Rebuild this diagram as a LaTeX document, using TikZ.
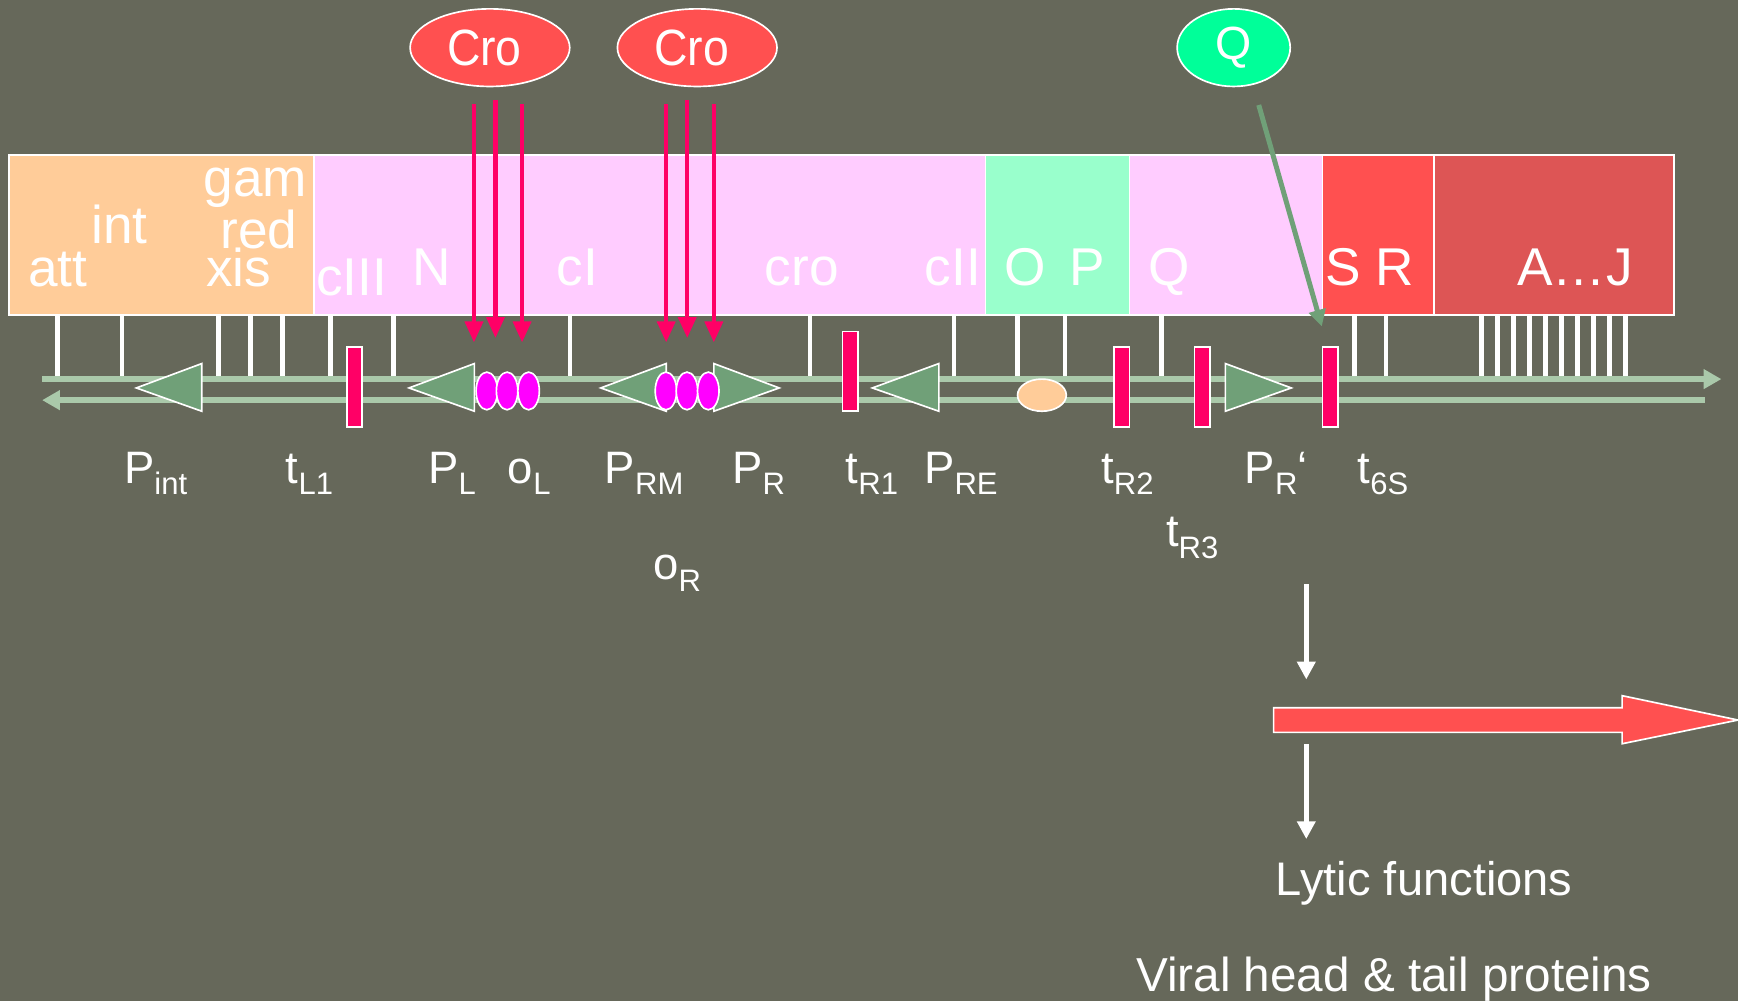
\documentclass[tikz,border=0pt]{standalone}
\usepackage{fontspec}
\setmainfont{Liberation Sans}
\newfontfamily\crofont[FakeStretch=0.91]{Liberation Sans}
\usetikzlibrary{arrows.meta,shapes.geometric}

\definecolor{bg}{RGB}{102,104,90}
\definecolor{orangebox}{RGB}{255,204,153}
\definecolor{pinkbox}{RGB}{255,204,255}
\definecolor{mintbox}{RGB}{153,255,204}
\definecolor{redbox}{RGB}{255,80,80}
\definecolor{darkredbox}{RGB}{221,85,85}
\definecolor{qgreen}{RGB}{0,255,153}
\definecolor{arrowpink}{RGB}{255,0,102}
\definecolor{strandcol}{RGB}{170,201,170}
\definecolor{promcol}{RGB}{112,160,120}
\definecolor{opcol}{RGB}{255,0,255}
\definecolor{oricol}{RGB}{255,204,153}

\newcommand{\lsub}[1]{\raisebox{-10.5pt}{\fontsize{28pt}{28pt}\selectfont #1}}

\begin{document}
\begin{tikzpicture}[x=1pt,y=-1pt,
  genebox/.style={draw=white, line width=1.5pt},
  genelabel/.style={anchor=base west, inner sep=0pt, outer sep=0pt, text=white, font=\fontsize{48pt}{48pt}\selectfont},
  sitelabel/.style={anchor=base west, inner sep=0pt, outer sep=0pt, text=white, font=\fontsize{41pt}{41pt}\selectfont},
  biglabel/.style={anchor=base west, inner sep=0pt, outer sep=0pt, text=white, font=\fontsize{42.5pt}{42.5pt}\selectfont},
  protein/.style={ellipse, draw=white, line width=1.5pt, inner sep=0pt, text=white, font=\fontsize{42pt}{42pt}\selectfont},
  tick/.style={draw=white, line width=4pt},
  strand/.style={draw=strandcol, line width=5pt},
  croarrow/.style={draw=arrowpink, line width=4pt, -{Triangle[length=19pt,width=16pt]}},
  qarrow/.style={draw=promcol, line width=4.5pt, -{Triangle[length=15pt,width=15pt]}},
  whitearrow/.style={draw=white, line width=4pt, -{Triangle[length=16pt,width=16pt]}},
  promoter/.style={fill=promcol, draw=white, line width=1.5pt},
  operator/.style={fill=opcol, draw=white, line width=1.5pt},
  terminator/.style={fill=arrowpink, draw=white, line width=1.5pt}
]
% background / bounding box
\useasboundingbox (0,0) rectangle (1568,903);
\fill[bg] (0,0) rectangle (1568,903);

% gene map boxes
\draw[genebox, fill=orangebox] (8,140) rectangle (283,284);
\draw[genebox, fill=pinkbox] (283,140) rectangle (889,284);
\draw[genebox, fill=mintbox] (889,140) rectangle (1019,284);
\draw[genebox, fill=pinkbox] (1019,140) rectangle (1193,284);
\draw[genebox, fill=redbox] (1193,140) rectangle (1294,284);
\draw[genebox, fill=darkredbox] (1294,140) rectangle (1510,284);

% gene labels
\node[genelabel] (latt) at (25.6,258.6) {att};
\node[genelabel] (lint) at (82.6,220) {int};
\node[genelabel] (lgam) at (183.7,177.5) {gam};
\node[genelabel] (lred) at (199,224.5) {red};
\node[genelabel] (lxis) at (186,258.6) {xis};
\node[genelabel] (lcIII) at (285.4,267) {cIII};
\node[genelabel] (lN) at (372,258) {N};
\node[genelabel] (lcI) at (502,258) {cI};
\node[genelabel] (lcro) at (690,258) {cro};
\node[genelabel] (lcII) at (834.4,258) {cII};
\node[genelabel] (lO) at (906.4,258) {O};
\node[genelabel] (lP) at (965,258) {P};
\node[genelabel] (lQ) at (1036,258) {Q};
\node[genelabel] (lSR) at (1195.8,258) {S R};
\node[genelabel] (lAJ) at (1369,258) {A…J};

% gene boundary ticks
\foreach \x in {52,110,197,226,255,298,355,514,731,860.5,918,961,1048,1222,1250.5}
  \draw[tick] (\x,284) -- (\x,342);
\foreach \i in {0,...,9}
  \draw[tick] (1336.7+\i*14.44,284) -- (1336.7+\i*14.44,342);

% DNA strands
\coordinate (topS) at (38,342);
\coordinate (topE) at (1553,342);
\coordinate (botS) at (38,361);
\coordinate (botE) at (1538,361);
\draw[strand, -{Triangle[length=16pt,width=17pt]}] (topS) -- (topE);
\draw[strand, {Triangle[length=16pt,width=17pt]}-] (botS) -- (botE);

% promoters (triangles)
\draw[promoter] (123,350) -- (182,328) -- (182,371) -- cycle;
\draw[promoter] (369,350) -- (428,328) -- (428,371) -- cycle;
\draw[promoter] (542,350) -- (601,328) -- (601,371) -- cycle;
\draw[promoter] (703,350) -- (644,328) -- (644,371) -- cycle;
\draw[promoter] (787,350) -- (847,328) -- (847,371) -- cycle;
\draw[promoter] (1165,350) -- (1105.5,328) -- (1105.5,371) -- cycle;

% operators
\foreach \x in {439.2,457.5,476.9}
  \draw[operator] (\x,352.7) ellipse [x radius=9.7, y radius=17];
\foreach \x in {600.8,619.8,639}
  \draw[operator] (\x,352.7) ellipse [x radius=9.7, y radius=17];

% origin
\draw[fill=oricol, draw=white, line width=1.5pt] (940,356.5) ellipse [x radius=22, y radius=14.5];

% terminators
\draw[terminator] (313,313) rectangle (326.5,385);
\draw[terminator] (760,299) rectangle (774,371);
\draw[terminator] (1005,313) rectangle (1019,385);
\draw[terminator] (1077.5,313) rectangle (1091.5,385);
\draw[terminator] (1193,313) rectangle (1207,385);

% proteins
\node[protein, fill=redbox, minimum width=144pt, minimum height=70pt,
      font=\crofont\fontsize{46pt}{46pt}\selectfont] (cro1) at (442,43) {\hspace*{-10pt}Cro};
\node[protein, fill=redbox, minimum width=144pt, minimum height=70pt,
      font=\crofont\fontsize{46pt}{46pt}\selectfont] (cro2) at (629,43) {\hspace*{-10pt}Cro};
\node[protein, fill=qgreen, minimum width=102pt, minimum height=70pt] (qprot) at (1113,43) {Q};

% Cro binding arrows
\coordinate (a1s) at (427.6,93.8); \coordinate (a1e) at (427.6,309);
\coordinate (a2s) at (447,90.2);   \coordinate (a2e) at (447,305);
\coordinate (a3s) at (471,93.8);   \coordinate (a3e) at (471,309);
\coordinate (b1s) at (601,93.8);   \coordinate (b1e) at (601,309);
\coordinate (b2s) at (620,90.2);   \coordinate (b2e) at (620,305);
\coordinate (b3s) at (644,93.8);   \coordinate (b3e) at (644,309);
\draw[croarrow] (a1s) -- (a1e);
\draw[croarrow] (a2s) -- (a2e);
\draw[croarrow] (a3s) -- (a3e);
\draw[croarrow] (b1s) -- (b1e);
\draw[croarrow] (b2s) -- (b2e);
\draw[croarrow] (b3s) -- (b3e);

% Q arrow
\coordinate (qs) at (1135.6,94.7);
\coordinate (qe) at (1192.5,294.5);
\draw[qarrow] (qs) -- (qe);

% site labels
\node[sitelabel] (sPint) at (112,436) {P\lsub{int}};
\node[sitelabel] (stL1) at (258,436) {t\lsub{L1}};
\node[sitelabel] (sPL) at (386.5,436) {P\lsub{L}};
\node[sitelabel] (soL) at (458.3,436) {o\lsub{L}};
\node[sitelabel] (sPRM) at (545.7,436) {P\lsub{RM}};
\node[sitelabel] (soR) at (589.5,523) {o\lsub{R}};
\node[sitelabel] (sPR) at (660.6,436) {P\lsub{R}};
\node[sitelabel] (stR1) at (763,436) {t\lsub{R1}};
\node[sitelabel] (sPRE) at (833.8,436) {P\lsub{RE}};
\node[sitelabel] (stR2) at (993.5,436) {t\lsub{R2}};
\node[sitelabel] (stR3) at (1052,493) {t\lsub{R3}};
\node[sitelabel] (sPRp) at (1123,436) {P\lsub{R}‘};
\node[sitelabel] (st6S) at (1225,436) {t\lsub{6S}};

% lower part
\coordinate (w1s) at (1178.5,527);
\coordinate (w1e) at (1178.5,613);
\coordinate (w2s) at (1178.5,671);
\coordinate (w2e) at (1178.5,757);
\draw[whitearrow] (w1s) -- (w1e);
\draw[whitearrow] (w2s) -- (w2e);

\draw[fill=redbox, draw=white, line width=1.5pt]
  (1149,638.5) -- (1463.4,638.5) -- (1463.4,627.6) -- (1568,649.6)
  -- (1463.4,671) -- (1463.4,660.7) -- (1149,660.7) -- cycle;

\node[biglabel] (lytic) at (1151,807.5) {Lytic functions};
\node[biglabel, font=\fontsize{43pt}{43pt}\selectfont] (viral) at (1025,894.7) {Viral head \& tail proteins};
\end{tikzpicture}
\end{document}
